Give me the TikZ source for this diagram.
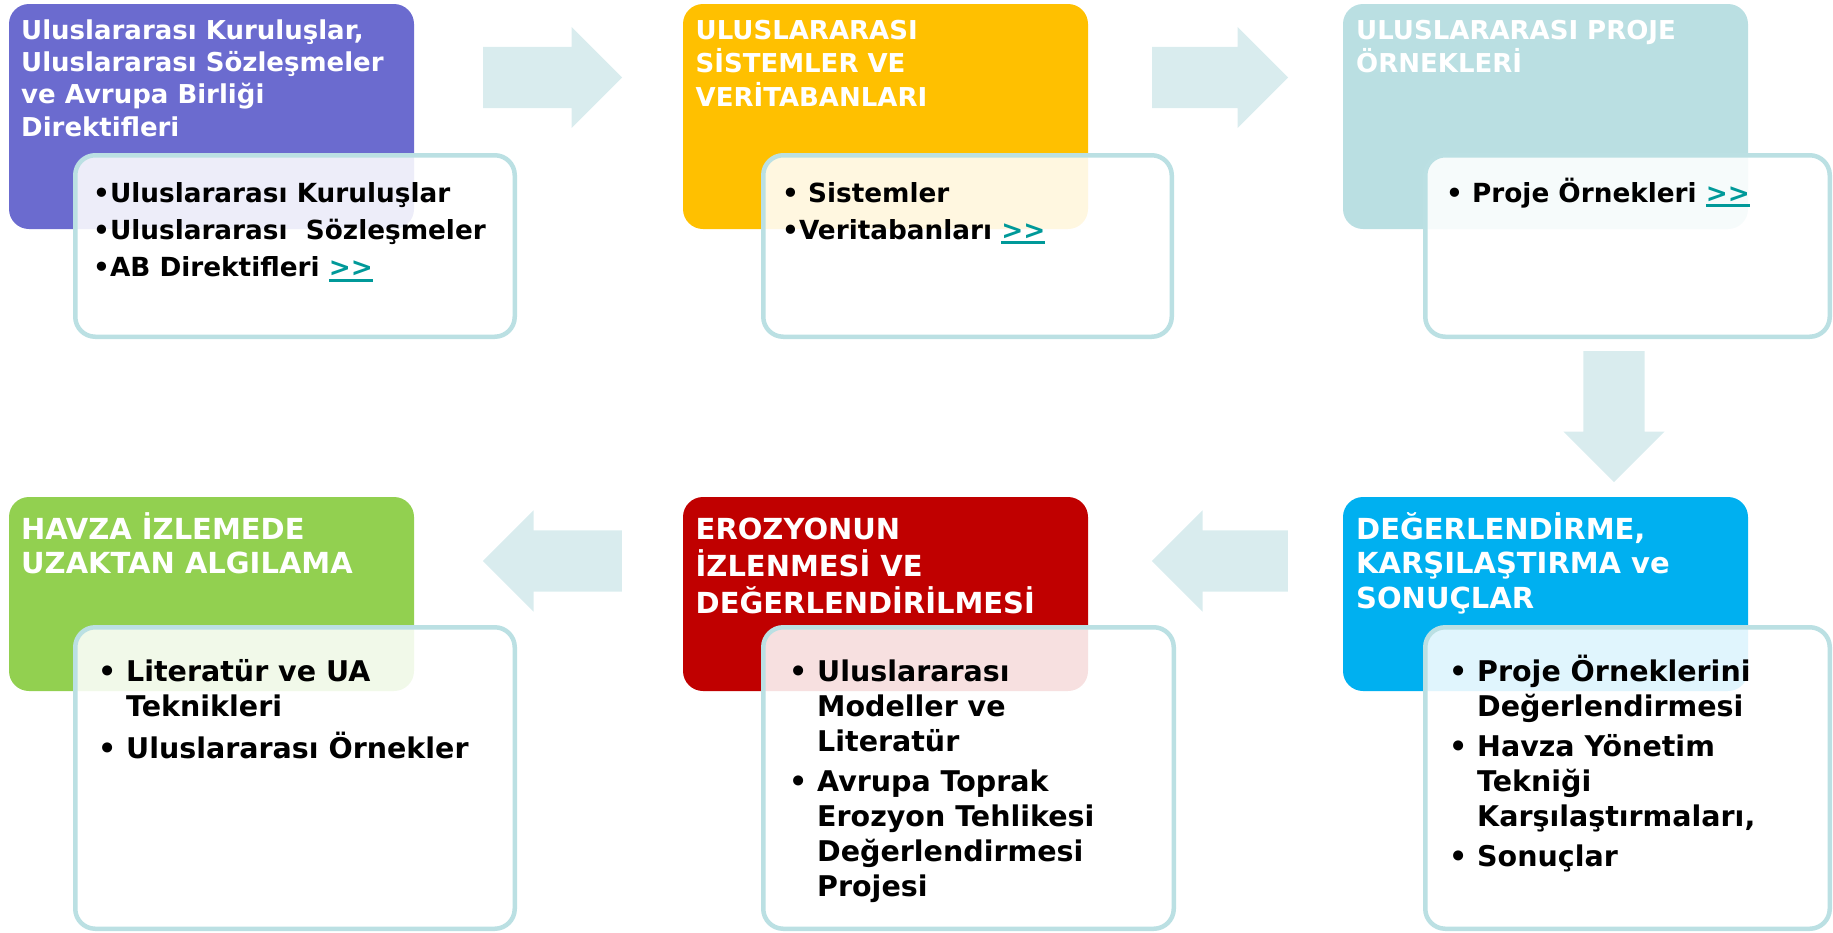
\documentclass[tikz,border=0pt]{standalone}
\usepackage{fontspec}
\setmainfont{DejaVu Sans}
\usetikzlibrary{shapes.arrows}

\definecolor{purpleBox}{RGB}{107,107,207}
\definecolor{yellowBox}{RGB}{255,192,0}
\definecolor{tealBox}{RGB}{186,223,226}
\definecolor{greenBox}{RGB}{146,208,80}
\definecolor{redBox}{RGB}{192,0,0}
\definecolor{blueBox}{RGB}{0,176,240}
\definecolor{cardEdge}{RGB}{187,224,227}
\definecolor{arrowFill}{RGB}{217,236,238}
\definecolor{linkTeal}{RGB}{0,153,153}

\newcommand{\toptitle}{\bfseries\fontsize{26}{32.4}\selectfont}
\newcommand{\lowtitle}{\bfseries\fontsize{29}{34.5}\selectfont}
\newcommand{\topbody}{\bfseries\fontsize{26.3}{37.4}\selectfont}
\newcommand{\lowbody}{\bfseries\fontsize{28.5}{35}\selectfont}
\newcommand{\bul}{\makebox[28pt][l]{•}}
\newsavebox\lnkbox
\newcommand{\lnk}[1]{\sbox\lnkbox{#1}\textcolor{linkTeal}{\rlap{\rule[-5pt]{\wd\lnkbox}{3pt}}#1}}

\begin{document}
\begin{tikzpicture}[x=1pt,y=-1pt,
  hdr/.style={rounded corners=20pt,minimum width=405pt,inner sep=0pt},
  card/.style={draw=cardEdge,line width=4.5pt,fill=white,fill opacity=0.88,rounded corners=20pt,inner sep=0pt},
  flow/.style={single arrow,fill=arrowFill,single arrow head extend=20pt,single arrow tip angle=90,
    text height=30.5pt,text depth=30.5pt,minimum width=101pt,minimum height=139pt,inner sep=0pt,anchor=tail},
  ttl/.style={anchor=base west,inner sep=0pt,text=white},
  txt/.style={anchor=base west,inner sep=0pt,text=black}]
  \useasboundingbox (0,0) rectangle (1833,932);
  \foreach \n/\x/\y/\h/\c in {intl/211.5/116.5/225pt/purpleBox, sys/885.5/116.5/225pt/yellowBox,
      proj/1545.5/116.5/225pt/tealBox, rs/211.5/594/194pt/greenBox,
      eroz/885.5/594/194pt/redBox, eval/1545.5/594/194pt/blueBox}
    \node[hdr,fill=\c,minimum height=\h] (\n) at (\x,\y) {};
  \node[flow] (a1) at (483,77.5) {};
  \node[flow,minimum height=136pt] (a2) at (1152,77.5) {};
  \node[flow,minimum height=131pt,rotate=-90] (a3) at (1614,351) {};
  \node[flow,minimum height=136pt,rotate=180] (a4) at (1288,561) {};
  \node[flow,rotate=180] (a5) at (622,561) {};
  \foreach \n/\x/\y/\w/\h in {c1/295/246/439.5pt/181.5pt, c2/967.5/246/408.5pt/181.5pt,
      c3/1627.5/246/404.5pt/181.5pt, c4/295/778/439.5pt/301.5pt,
      c5/968.5/778/410.5pt/301.5pt, c6/1627.5/778/404.5pt/301.5pt}
    \node[card,minimum width=\w,minimum height=\h] (\n) at (\x,\y) {};
  \node[ttl,font=\toptitle] (t1) at (21,39) {\begin{tabular}[t]{@{}l@{}}Uluslararası Kuruluşlar,\\Uluslararası Sözleşmeler\\ve Avrupa Birliği\\Direktifleri\end{tabular}};
  \node[ttl,font=\toptitle] (t2) at (695.5,39) {\begin{tabular}[t]{@{}l@{}}ULUSLARARASI\\SİSTEMLER VE\\VERİTABANLARI\end{tabular}};
  \node[ttl,font=\toptitle] (t3) at (1356,39) {\begin{tabular}[t]{@{}l@{}}ULUSLARARASI PROJE\\ÖRNEKLERİ\end{tabular}};
  \node[ttl,font=\lowtitle] (t4) at (21,539) {\begin{tabular}[t]{@{}l@{}}HAVZA İZLEMEDE\\UZAKTAN ALGILAMA\end{tabular}};
  \node[ttl,font=\lowtitle] (t5) at (695.5,539) {\begin{tabular}[t]{@{}l@{}}EROZYONUN\\İZLENMESİ VE\\DEĞERLENDİRİLMESİ\end{tabular}};
  \node[ttl,font=\lowtitle] (t6) at (1356,539) {\begin{tabular}[t]{@{}l@{}}DEĞERLENDİRME,\\KARŞILAŞTIRMA ve\\SONUÇLAR\end{tabular}};
  \node[txt,font=\topbody] (b1) at (93,202) {\begin{tabular}[t]{@{}l@{}}•Uluslararası Kuruluşlar\\•Uluslararası~~Sözleşmeler\\•AB Direktifleri \lnk{>{}>}\end{tabular}};
  \node[txt,font=\topbody] (b2) at (782,202) {\begin{tabular}[t]{@{}l@{}}• Sistemler\\•Veritabanları \lnk{>{}>}\end{tabular}};
  \node[txt,font=\topbody] (b3) at (1446,202) {\begin{tabular}[t]{@{}l@{}}• Proje Örnekleri \lnk{>{}>}\end{tabular}};
  \node[txt,font=\lowbody] (b4) at (98,681.5) {\begin{tabular}[t]{@{}l@{}l@{}}\bul&Literatür ve UA\\&Teknikleri\\[5pt]\bul&Uluslararası Örnekler\end{tabular}};
  \node[txt,font=\lowbody] (b5) at (789,681.5) {\begin{tabular}[t]{@{}l@{}l@{}}\bul&Uluslararası\\&Modeller ve\\&Literatür\\[5pt]\bul&Avrupa Toprak\\&Erozyon Tehlikesi\\&Değerlendirmesi\\&Projesi\end{tabular}};
  \node[txt,font=\lowbody] (b6) at (1449,681.5) {\begin{tabular}[t]{@{}l@{}l@{}}\bul&Proje Örneklerini\\&Değerlendirmesi\\[5pt]\bul&Havza Yönetim\\&Tekniği\\&Karşılaştırmaları,\\[5pt]\bul&Sonuçlar\end{tabular}};
\end{tikzpicture}
\end{document}
